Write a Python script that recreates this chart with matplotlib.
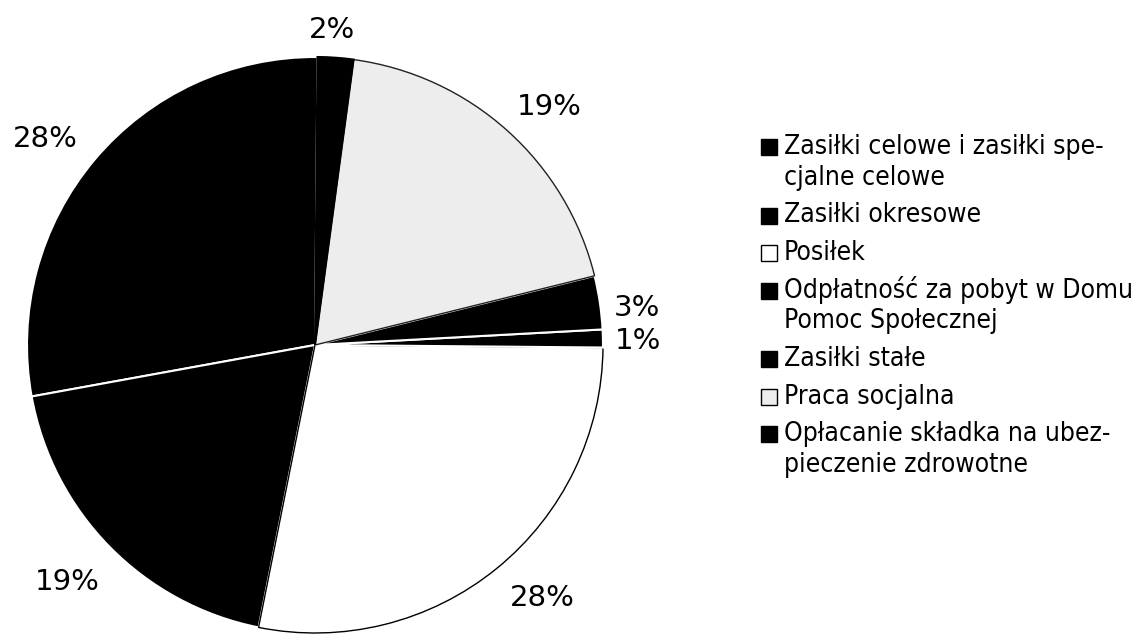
import matplotlib.pyplot as plt
from matplotlib.patches import Rectangle
import numpy as np

# categories in legend order (pie drawn counter-clockwise in this order)
categories = [
    'Zasiłki celowe i zasiłki spe-\ncjalne celowe',
    'Zasiłki okresowe',
    'Posiłek',
    'Odpłatność za pobyt w Domu\nPomoc Społecznej',
    'Zasiłki stałe',
    'Praca socjalna',
    'Opłacanie składka na ubez-\npieczenie zdrowotne',
]
shares = [28, 19, 28, 1, 3, 19, 2]
face_colors = ['black', 'black', 'white', 'black', 'black', '#ededed', 'black']
edge_colors = ['white', 'white', 'black', 'white', 'white', '#222222', 'black']
# label placement: distance in radii and small angle nudge (deg) from slice middle
label_dist = [1.18, 1.19, 1.18, 1.12, 1.125, 1.16, 1.095]
label_nudge = [2.7, -0.7, 2.8, -0.6, -1.9, -2.6, 1.0]

plt.rcParams['font.family'] = ['DejaVu Sans']

W, H = 1137, 634
fig = plt.figure(figsize=(W / 100, H / 100), dpi=100)
ax = fig.add_axes([27 / W, 1 / H, 576 / W, 576 / H])

wedges, _ = ax.pie(shares, colors=face_colors, startangle=89.5, radius=1.0,
                   wedgeprops=dict(linewidth=1.5))

for w, ec in zip(wedges, edge_colors):
    w.set_edgecolor(ec)
    if ec != 'white' and w.get_facecolor()[0] > 0.5:
        w.set_linewidth(1.0)

# percentage labels outside the pie
for w, v, d, nudge in zip(wedges, shares, label_dist, label_nudge):
    mid = np.deg2rad((w.theta1 + w.theta2) / 2 + nudge)
    ax.text(d * np.cos(mid), d * np.sin(mid), f'{v}%', fontsize=21,
            ha='center', va='center', clip_on=False)

ax.set_xlim(-1, 1)
ax.set_ylim(-1, 1)
ax.set_aspect('equal')
ax.axis('off')

# legend drawn by hand so the square sits on the first line of each entry
box_x, text_x = 761, 784
box = 16
line_h = 31
entry_gap = 37.5
y = 147
for w, label in zip(wedges, categories):
    lines = label.split('\n')
    fig.add_artist(Rectangle((box_x / W, 1 - (y + box / 2) / H), box / W, box / H,
                             transform=fig.transFigure,
                             facecolor=w.get_facecolor(),
                             edgecolor='black', linewidth=1.0))
    for k, line in enumerate(lines):
        fig.text(text_x / W, 1 - (y + k * line_h) / H, line, fontsize=19,
                 fontstretch='condensed', ha='left', va='center')
    y += line_h * (len(lines) - 1) + entry_gap

fig.savefig('out.png', dpi=100)
